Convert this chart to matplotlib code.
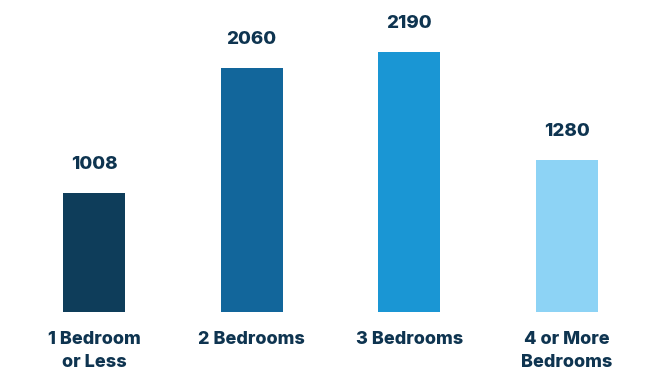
import numpy as np
import matplotlib.pyplot as plt

categories = ['1 Bedroom\nor Less', '2 Bedrooms', '3 Bedrooms', '4 or More\nBedrooms']
values = [1008, 2060, 2190, 1280]
colors = ['#0E3D5A', '#12669B', '#1A96D4', '#8DD3F5']
text_color = '#0E3450'

plt.rcParams['font.family'] = ['Inter', 'DejaVu Sans']

fig = plt.figure(figsize=(6.6, 3.74), dpi=100)
ax = fig.add_axes([0, 62 / 374, 1, 312 / 374])

x = np.arange(len(values))
bars = ax.bar(x, values, width=0.393, color=colors)

for b, v in zip(bars, values):
    ax.text(b.get_x() + b.get_width() / 2, v + 240, str(v),
            ha='center', va='center', fontsize=13.5, fontweight='heavy',
            color=text_color)

ax.set_xlim(-0.596, 3.59)
ax.set_ylim(0, 2632)
ax.set_xticks(x)
ax.set_xticklabels(categories, fontsize=13, fontweight='heavy',
                   color=text_color, linespacing=1.45)
ax.tick_params(axis='x', length=0, pad=14)
ax.set_yticks([])
for s in ax.spines.values():
    s.set_visible(False)

fig.savefig('out.png', dpi=100)
